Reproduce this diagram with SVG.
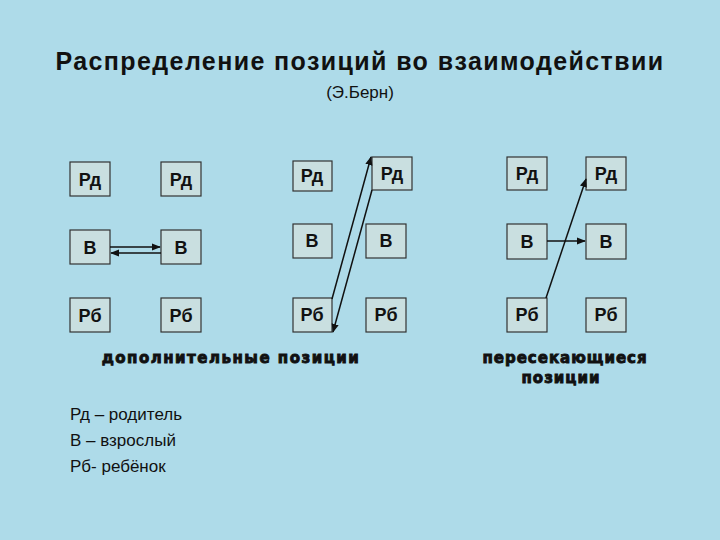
<svg xmlns="http://www.w3.org/2000/svg" width="720" height="540" viewBox="0 0 720 540">
<style>
.b{fill:#c9dfe0;stroke:#333;stroke-width:1.2}
.t{font-family:"Liberation Sans",Arial,sans-serif;font-weight:bold;font-size:18px;fill:#111;text-anchor:middle}
.c{stroke:#111;stroke-width:1.5;fill:none}
.k{font-family:"DejaVu Sans",sans-serif;font-weight:bold;font-size:15px;fill:#111;text-anchor:middle;stroke:#111;stroke-width:0.9}
.l{font-family:"Liberation Sans",Arial,sans-serif;font-size:17px;fill:#111}
</style>
<defs><marker id="a" viewBox="0 0 10 10" refX="9" refY="5" markerWidth="6" markerHeight="6" orient="auto"><path d="M0,1 L10,5 L0,9 z" fill="#111"/></marker></defs>
<rect width="720" height="540" fill="#aedbe9"/>
<text x="360" y="70" font-family="Liberation Sans,Arial,sans-serif" font-weight="bold" font-size="25" letter-spacing="1.4" text-anchor="middle" fill="#111">Распределение позиций во взаимодействии</text>
<text x="360" y="98" font-family="Liberation Sans,Arial,sans-serif" font-size="17" text-anchor="middle" fill="#111">(Э.Берн)</text>
<g id="n1"><rect class="b" x="70" y="162" width="40" height="34"/><text class="t" x="90" y="186">Рд</text></g>
<g id="n2"><rect class="b" x="70" y="230" width="40" height="34"/><text class="t" x="90" y="254">В</text></g>
<g id="n3"><rect class="b" x="70" y="298" width="40" height="34"/><text class="t" x="90" y="322">Рб</text></g>
<g id="n4"><rect class="b" x="161" y="162" width="40" height="34"/><text class="t" x="181" y="186">Рд</text></g>
<g id="n5"><rect class="b" x="161" y="230" width="40" height="34"/><text class="t" x="181" y="254">В</text></g>
<g id="n6"><rect class="b" x="161" y="298" width="40" height="34"/><text class="t" x="181" y="322">Рб</text></g>
<g id="n7"><rect class="b" x="293" y="161" width="39" height="30"/><text class="t" x="312" y="182">Рд</text></g>
<g id="n8"><rect class="b" x="293" y="224" width="39" height="34"/><text class="t" x="312" y="247">В</text></g>
<g id="n9"><rect class="b" x="293" y="298" width="39" height="34"/><text class="t" x="312" y="321">Рб</text></g>
<g id="n10"><rect class="b" x="372" y="157" width="40" height="33"/><text class="t" x="392" y="180">Рд</text></g>
<g id="n11"><rect class="b" x="366" y="224" width="40" height="34"/><text class="t" x="386" y="247">В</text></g>
<g id="n12"><rect class="b" x="366" y="298" width="40" height="34"/><text class="t" x="386" y="321">Рб</text></g>
<g id="n13"><rect class="b" x="507" y="157" width="40" height="33"/><text class="t" x="527" y="180">Рд</text></g>
<g id="n14"><rect class="b" x="507" y="224" width="40" height="35"/><text class="t" x="527" y="248">В</text></g>
<g id="n15"><rect class="b" x="507" y="298" width="40" height="34"/><text class="t" x="527" y="321">Рб</text></g>
<g id="n16"><rect class="b" x="586" y="157" width="40" height="33"/><text class="t" x="606" y="180">Рд</text></g>
<g id="n17"><rect class="b" x="586" y="224" width="40" height="35"/><text class="t" x="606" y="248">В</text></g>
<g id="n18"><rect class="b" x="586" y="298" width="40" height="34"/><text class="t" x="606" y="321">Рб</text></g>
<g id="connectors">
<line class="c" x1="110" y1="247" x2="160" y2="247" marker-end="url(#a)"/>
<line class="c" x1="161" y1="253" x2="111" y2="253" marker-end="url(#a)"/>
<line class="c" x1="332" y1="299" x2="371" y2="157" marker-end="url(#a)"/>
<line class="c" x1="372" y1="190" x2="333" y2="332" marker-end="url(#a)"/>
<line class="c" x1="547" y1="241" x2="585" y2="241" marker-end="url(#a)"/>
<line class="c" x1="546" y1="298" x2="586" y2="179" marker-end="url(#a)"/>
</g>
<text class="k" x="231" y="363" letter-spacing="1.5">дополнительные позиции</text>
<text class="k" x="565" y="363" letter-spacing="1">пересекающиеся</text>
<text class="k" x="561" y="383" letter-spacing="1">позиции</text>
<text class="l" x="70" y="420">Рд – родитель</text>
<text class="l" x="70" y="446">В – взрослый</text>
<text class="l" x="70" y="472">Рб- ребёнок</text>
</svg>
